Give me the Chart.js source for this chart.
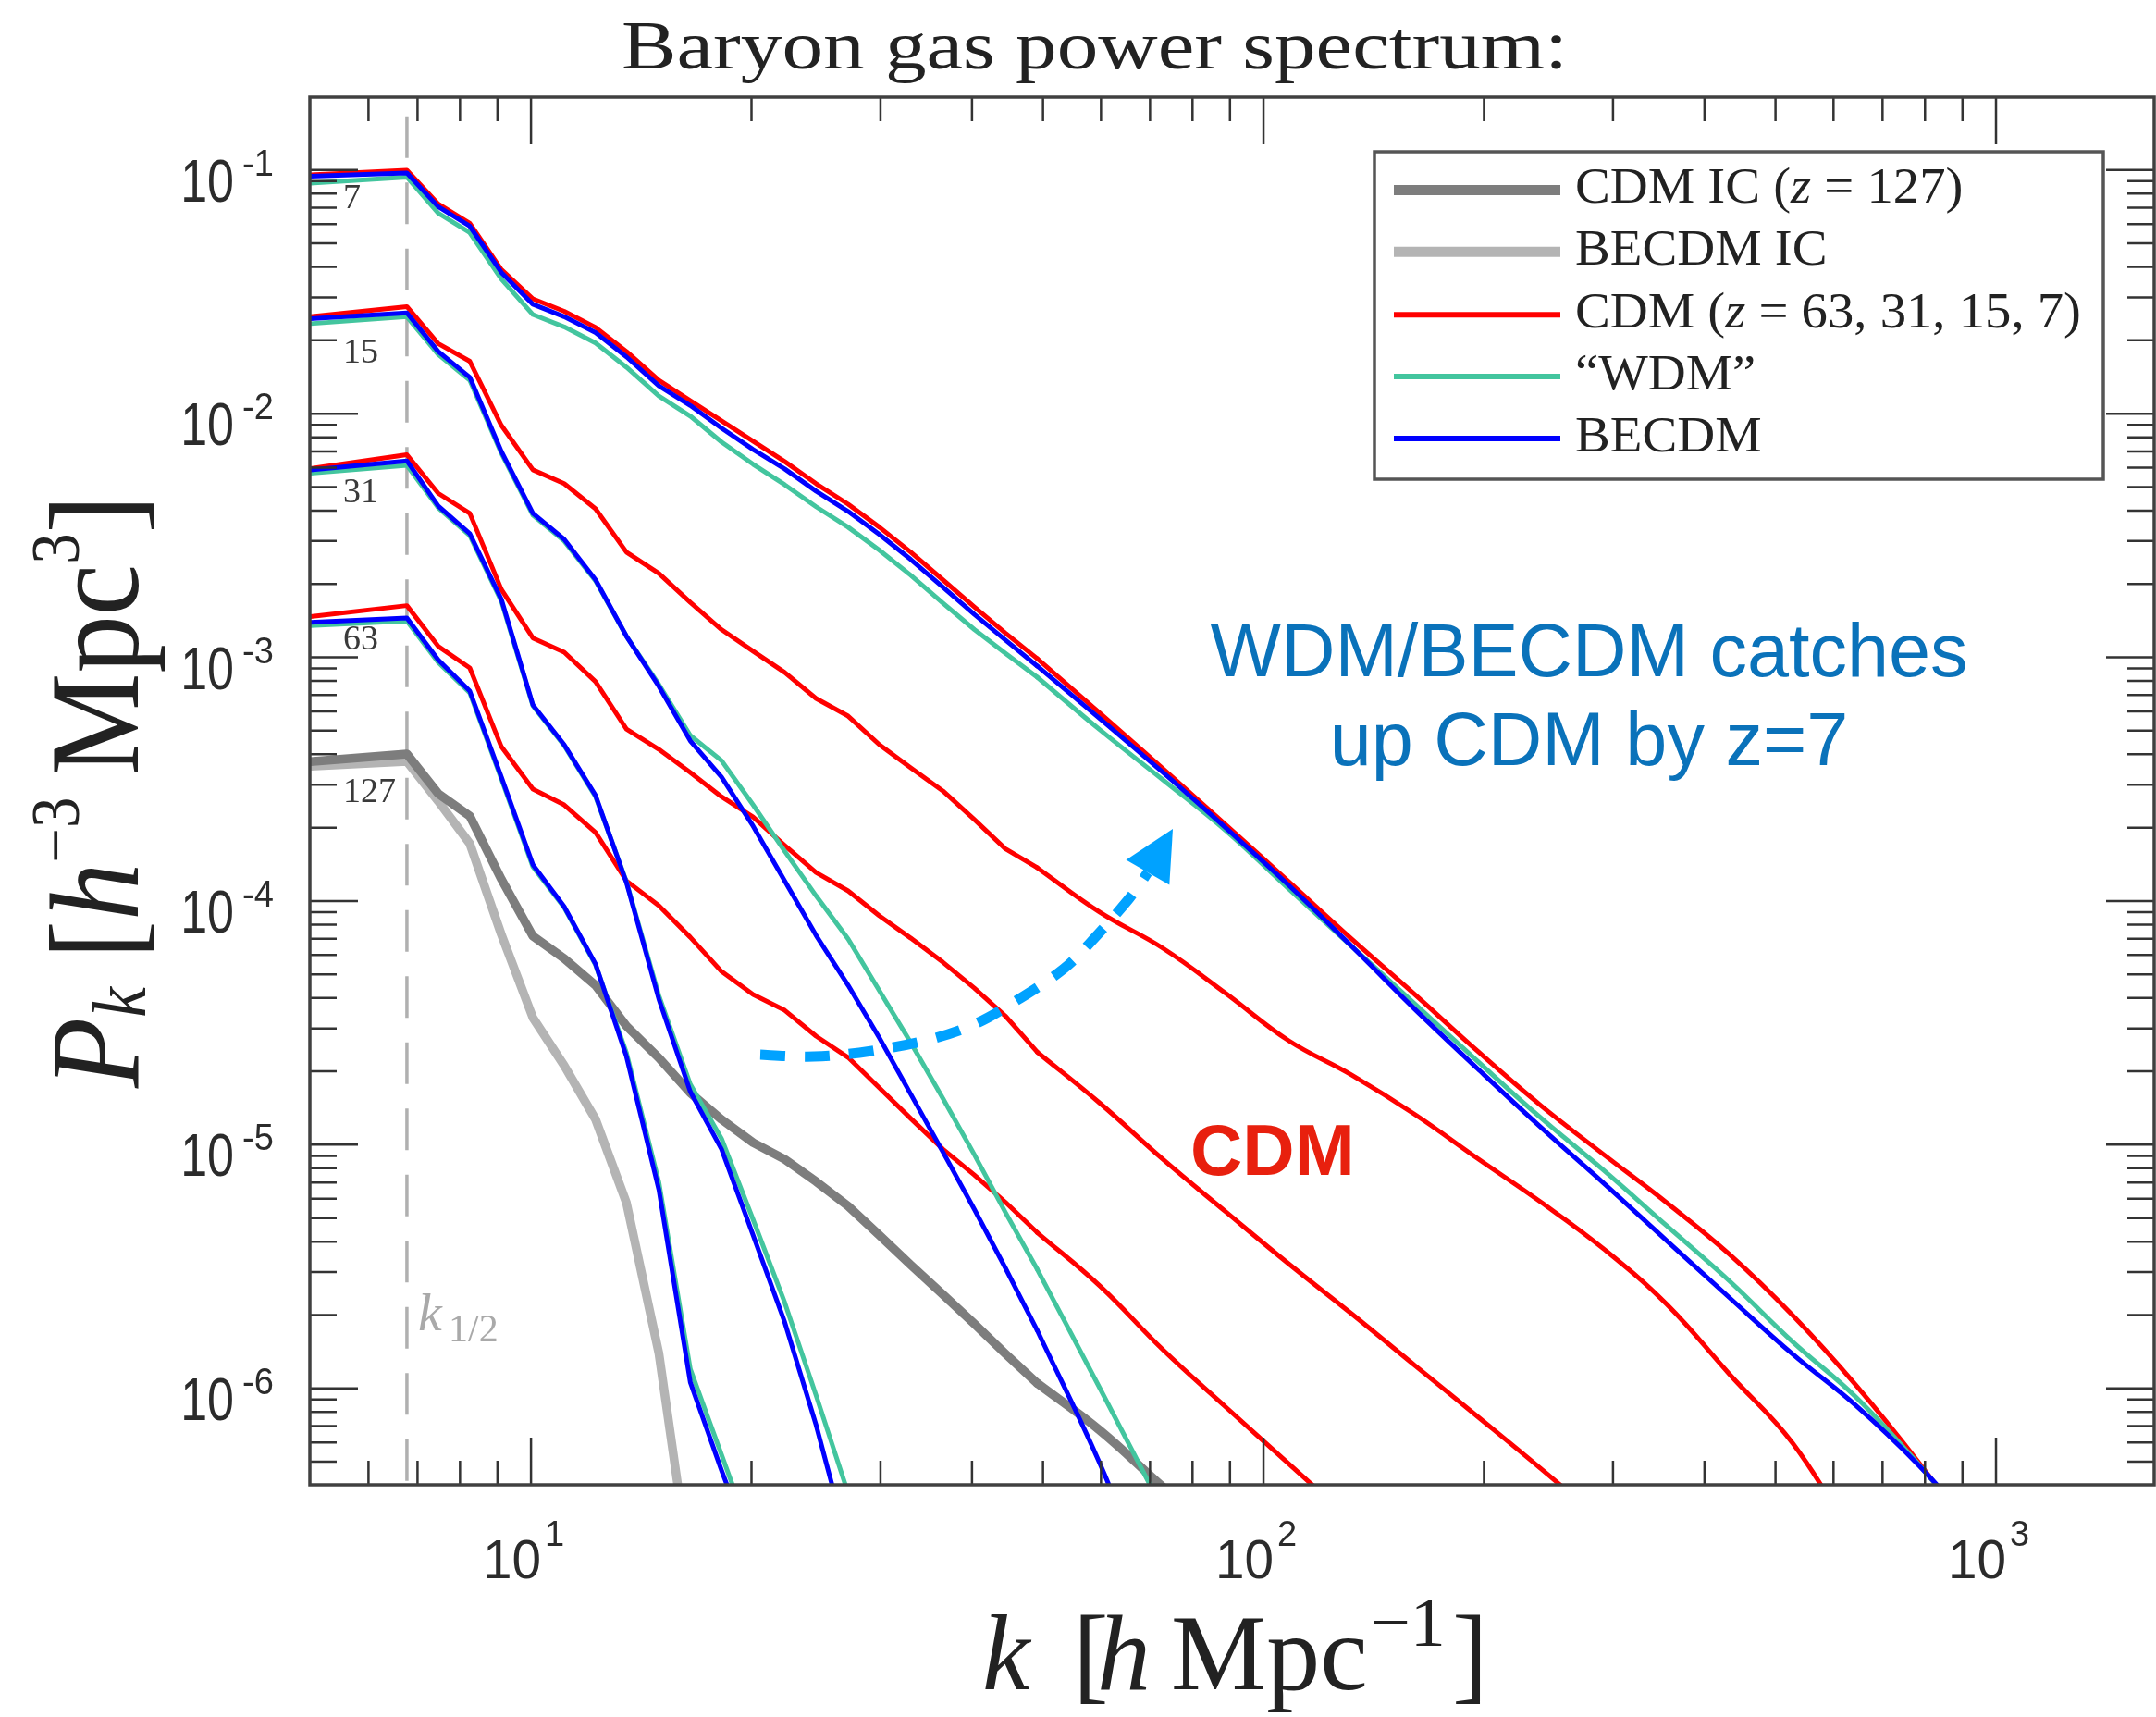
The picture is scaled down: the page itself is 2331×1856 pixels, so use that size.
<!DOCTYPE html>
<html><head><meta charset="utf-8">
<script src="https://cdn.jsdelivr.net/npm/chart.js@4.4.1/dist/chart.umd.min.js"></script>
<style>html,body{margin:0;padding:0;background:#fff;}canvas{display:block;}</style>
</head><body>
<canvas id="c" width="2331" height="1856" style="width:2331px;height:1856px"></canvas>
<script>
// ---------- DATA ----------
const kGrid = [5.0, 6.77, 7.47, 8.25, 9.11, 10.06, 11.1, 12.25, 13.5, 14.95, 16.5, 18.2, 20.1, 22.2, 24.5, 27.1, 29.9, 33.0, 36.5, 40.3, 44.4, 49.1, 59.8, 72.9, 88.9, 108.3, 132, 161, 196, 239, 291.5, 355.4, 433, 528, 644, 785, 957];

const cdmIC = [3.73e-4, 4.01e-4, 2.76e-4, 2.23e-4, 1.23e-4, 7.17e-5, 5.81e-5, 4.51e-5, 3.07e-5, 2.27e-5, 1.63e-5, 1.27e-5, 1.02e-5, 8.71e-6, 7.06e-6, 5.60e-6, 4.25e-6, 3.21e-6, 2.43e-6, 1.84e-6, 1.39e-6, 1.05e-6, 6.72e-7, 3.94e-7, 2.37e-7];
const becdmIC = [3.57e-4, 3.74e-4, 2.57e-4, 1.72e-4, 7.29e-5, 3.32e-5, 2.11e-5, 1.27e-5, 5.77e-6, 1.39e-6, 1.75e-7];

const cdm63 = [1.47e-3, 1.63e-3, 1.11e-3, 9.05e-4, 4.30e-4, 2.88e-4, 2.48e-4, 1.91e-4, 1.21e-4, 9.56e-5, 7.10e-5, 5.14e-5, 4.13e-5, 3.56e-5, 2.79e-5, 2.28e-5, 1.71e-5, 1.28e-5, 9.59e-6, 7.51e-6, 5.82e-6, 4.36e-6, 2.63e-6, 1.44e-6, 8.36e-7, 4.90e-7, 2.87e-7];
const cdm31 = [5.95e-3, 6.78e-3, 4.71e-3, 3.90e-3, 1.90e-3, 1.20e-3, 1.05e-3, 7.94e-4, 5.08e-4, 4.19e-4, 3.37e-4, 2.68e-4, 2.21e-4, 1.69e-4, 1.31e-4, 1.10e-4, 8.69e-5, 7.04e-5, 5.61e-5, 4.39e-5, 3.38e-5, 2.40e-5, 1.48e-5, 8.71e-6, 5.29e-6, 3.24e-6, 2.02e-6, 1.24e-6, 7.66e-7, 4.69e-7, 2.83e-7];
const cdm15 = [2.50e-2, 2.75e-2, 1.94e-2, 1.64e-2, 8.95e-3, 5.88e-3, 5.16e-3, 4.07e-3, 2.70e-3, 2.21e-3, 1.68e-3, 1.30e-3, 1.06e-3, 8.67e-4, 6.78e-4, 5.74e-4, 4.38e-4, 3.52e-4, 2.83e-4, 2.16e-4, 1.64e-4, 1.37e-4, 8.99e-5, 6.40e-5, 4.17e-5, 2.67e-5, 1.93e-5, 1.33e-5, 8.78e-6, 5.82e-6, 3.73e-6, 2.21e-6, 1.14e-6, 5.94e-7, 2.33e-7];
const cdm7 = [9.55e-2, 9.97e-2, 7.25e-2, 6.04e-2, 3.90e-2, 2.96e-2, 2.63e-2, 2.26e-2, 1.80e-2, 1.37e-2, 1.13e-2, 9.35e-3, 7.71e-3, 6.36e-3, 5.16e-3, 4.25e-3, 3.42e-3, 2.70e-3, 2.08e-3, 1.61e-3, 1.26e-3, 9.88e-4, 5.90e-4, 3.49e-4, 2.05e-4, 1.20e-4, 6.98e-5, 4.13e-5, 2.42e-5, 1.45e-5, 9.10e-6, 5.77e-6, 3.54e-6, 1.99e-6, 1.03e-6, 4.95e-7, 2.23e-7];

const wdm63 = [1.35e-3, 1.41e-3, 9.54e-4, 7.15e-4, 3.17e-4, 1.38e-4, 9.40e-5, 5.46e-5, 2.38e-5, 7.00e-6, 1.20e-6, 5.35e-7, 2.35e-7];
const wdm31 = [5.69e-3, 6.13e-3, 4.11e-3, 3.16e-3, 1.70e-3, 6.32e-4, 4.34e-4, 2.68e-4, 1.20e-4, 4.09e-5, 1.77e-5, 1.06e-5, 4.93e-6, 2.25e-6, 9.36e-7, 3.71e-7, 1.47e-7];
const wdm15 = [2.34e-2, 2.50e-2, 1.75e-2, 1.37e-2, 6.88e-3, 3.83e-3, 3.00e-3, 2.06e-3, 1.22e-3, 7.73e-4, 4.78e-4, 3.77e-4, 2.48e-4, 1.60e-4, 1.05e-4, 6.98e-5, 4.28e-5, 2.62e-5, 1.55e-5, 9.10e-6, 5.29e-6, 3.08e-6, 1.00e-6, 3.17e-7];
const wdm7 = [8.83e-2, 9.35e-2, 6.65e-2, 5.53e-2, 3.57e-2, 2.55e-2, 2.27e-2, 1.95e-2, 1.55e-2, 1.18e-2, 9.77e-3, 7.65e-3, 6.20e-3, 5.11e-3, 4.15e-3, 3.42e-3, 2.75e-3, 2.17e-3, 1.67e-3, 1.30e-3, 1.04e-3, 8.29e-4, 5.04e-4, 3.14e-4, 1.94e-4, 1.12e-4, 6.51e-5, 3.78e-5, 2.20e-5, 1.29e-5, 7.84e-6, 4.64e-6, 2.75e-6, 1.55e-6, 9.20e-7, 4.86e-7, 2.37e-7];

const becdm63 = [1.39e-3, 1.45e-3, 9.77e-4, 7.27e-4, 3.23e-4, 1.41e-4, 9.48e-5, 5.51e-5, 2.30e-5, 6.53e-6, 1.06e-6, 4.61e-7, 2.08e-7];
const becdm31 = [5.87e-3, 6.40e-3, 4.18e-3, 3.22e-3, 1.73e-3, 6.38e-4, 4.38e-4, 2.71e-4, 1.19e-4, 3.95e-5, 1.65e-5, 9.59e-6, 4.25e-6, 1.87e-6, 7.08e-7, 2.27e-7];
const becdm15 = [2.45e-2, 2.59e-2, 1.80e-2, 1.41e-2, 7.00e-3, 3.90e-3, 3.05e-3, 2.08e-3, 1.22e-3, 7.60e-4, 4.54e-4, 3.23e-4, 2.03e-4, 1.21e-4, 7.23e-5, 4.51e-5, 2.74e-5, 1.61e-5, 9.34e-6, 5.43e-6, 3.13e-6, 1.73e-6, 4.90e-7, 1.13e-7];
const becdm7 = [9.43e-2, 9.72e-2, 7.07e-2, 5.88e-2, 3.80e-2, 2.81e-2, 2.50e-2, 2.15e-2, 1.71e-2, 1.30e-2, 1.08e-2, 8.72e-3, 7.13e-3, 5.93e-3, 4.81e-3, 3.97e-3, 3.19e-3, 2.52e-3, 1.94e-3, 1.50e-3, 1.18e-3, 9.21e-4, 5.60e-4, 3.37e-4, 1.99e-4, 1.16e-4, 6.51e-5, 3.59e-5, 2.05e-5, 1.18e-5, 6.94e-6, 4.03e-6, 2.35e-6, 1.38e-6, 8.50e-7, 4.82e-7, 2.48e-7];

const kHalf = 6.77;
const arrowK = [20.56, 24.35, 29.07, 35.22, 40.6, 46.3, 53.4, 59.25, 65.6, 69.5];
const arrowP = [2.34e-5, 2.30e-5, 2.42e-5, 2.715e-5, 3.15e-5, 3.95e-5, 5.28e-5, 7.23e-5, 1.026e-4, 1.31e-4];
const arrowTip = [75.2, 1.976e-4];

const xMajorTicks = [10, 100, 1000];
const xTickExps = ['1', '2', '3'];
const yMajorTicks = [1e-1, 1e-2, 1e-3, 1e-4, 1e-5, 1e-6];
const yTickExps = ['-1', '-2', '-3', '-4', '-5', '-6'];
const zLabels = ['7', '15', '31', '63', '127'];
const legendLabels = [
  [['CDM IC (', 0], ['z', 1], [' = 127)', 0]],
  [['BECDM IC', 0]],
  [['CDM (', 0], ['z', 1], [' = 63, 31, 15, 7)', 0]],
  [['\u201CWDM\u201D', 0]],
  [['BECDM', 0]]
];
const titleText = 'Baryon gas power spectrum:';
const noteLines = ['WDM/BECDM catches', 'up CDM by z=7'];
const noteCDM = 'CDM';

// ---------- STYLE ----------
const C_DARK = '#7d7d7d', C_LIGHT = '#b4b4b4', C_RED = '#ff0000', C_TEAL = '#43c59e', C_BLUE = '#0000ff';
const SERIF = '"Liberation Serif","Times New Roman",serif';
const SANS = '"Liberation Sans",Arial,sans-serif';
const SPLIT = 21; // index where the binned (kinked) part turns into the smooth high-k tail

const pts = (vals, i0, i1) => vals.slice(i0, i1).map((v, j) => ({x: kGrid[i0 + j], y: v}));
const datasets = [];
function addSeries(label, vals, color, w, order) {
  const base = {label, borderColor: color, backgroundColor: color, borderWidth: w, pointRadius: 0,
    showLine: true, fill: false, clip: 0, order, borderJoinStyle: 'round', borderCapStyle: 'round'};
  datasets.push(Object.assign({}, base, {data: pts(vals, 0, Math.min(SPLIT + 1, vals.length)), tension: 0}));
  if (vals.length > SPLIT + 1)
    datasets.push(Object.assign({}, base, {data: pts(vals, SPLIT, vals.length), tension: 0.4}));
}
addSeries('BECDM z=7', becdm7, C_BLUE, 5, 1); addSeries('BECDM z=15', becdm15, C_BLUE, 5, 1);
addSeries('BECDM z=31', becdm31, C_BLUE, 5, 1); addSeries('BECDM z=63', becdm63, C_BLUE, 5, 1);
addSeries('WDM z=7', wdm7, C_TEAL, 5, 2); addSeries('WDM z=15', wdm15, C_TEAL, 5, 2);
addSeries('WDM z=31', wdm31, C_TEAL, 5, 2); addSeries('WDM z=63', wdm63, C_TEAL, 5, 2);
addSeries('CDM z=7', cdm7, C_RED, 5, 3); addSeries('CDM z=15', cdm15, C_RED, 5, 3);
addSeries('CDM z=31', cdm31, C_RED, 5, 3); addSeries('CDM z=63', cdm63, C_RED, 5, 3);
addSeries('CDM IC', cdmIC, C_DARK, 9.5, 4); addSeries('BECDM IC', becdmIC, C_LIGHT, 9.5, 5);
const legendStyles = [[C_DARK, 11], [C_LIGHT, 11], [C_RED, 6], [C_TEAL, 6], [C_BLUE, 6]];

function runsWidth(ctx, runs) {
  let w = 0; for (const r of runs) { ctx.font = r.f; w += ctx.measureText(r.t).width + (r.g || 0); } return w;
}
function drawRuns(ctx, runs, x, y, s) {
  ctx.save(); ctx.translate(x, y); ctx.scale(s, 1);
  let cx = 0;
  for (const r of runs) { ctx.font = r.f; ctx.fillText(r.t, cx, r.dy || 0); cx += ctx.measureText(r.t).width + (r.g || 0); }
  ctx.restore();
}
function catmull(ctx, p) {
  ctx.moveTo(p[0].x, p[0].y);
  for (let i = 0; i < p.length - 1; i++) {
    const p0 = p[Math.max(i - 1, 0)], p1 = p[i], p2 = p[i + 1], p3 = p[Math.min(i + 2, p.length - 1)];
    ctx.bezierCurveTo(p1.x + (p2.x - p0.x) / 6, p1.y + (p2.y - p0.y) / 6, p2.x - (p3.x - p1.x) / 6, p2.y - (p3.y - p1.y) / 6, p2.x, p2.y);
  }
}

const deco = {
  id: 'deco',
  beforeDraw(chart) {
    const c = chart.ctx; c.save(); c.fillStyle = '#fff'; c.fillRect(0, 0, chart.width, chart.height); c.restore();
  },
  beforeDatasetsDraw(chart) {
    const {ctx, chartArea: a, scales: {x}} = chart;
    const px = x.getPixelForValue(kHalf);
    ctx.save(); ctx.strokeStyle = '#b0b0b0'; ctx.lineWidth = 3.5; ctx.setLineDash([45, 26.5]); ctx.lineDashOffset = 50.8;
    ctx.beginPath(); ctx.moveTo(px, a.top); ctx.lineTo(px, a.bottom); ctx.stroke(); ctx.restore();
  },
  afterDatasetsDraw(chart) {
    const {ctx, chartArea: a, scales: {x, y}} = chart;
    ctx.save();
    // ---- arrow annotation ----
    const ap = arrowK.map((k, i) => ({x: x.getPixelForValue(k), y: y.getPixelForValue(arrowP[i])}));
    ctx.strokeStyle = '#00a2ff'; ctx.fillStyle = '#00a2ff'; ctx.lineWidth = 11; ctx.lineCap = 'butt';
    ctx.setLineDash([27, 21]);
    ctx.beginPath(); catmull(ctx, ap); ctx.stroke(); ctx.setLineDash([]);
    const T = {x: x.getPixelForValue(arrowTip[0]), y: y.getPixelForValue(arrowTip[1])};
    const B = ap[ap.length - 1];
    let dx = T.x - B.x, dy = T.y - B.y; const L = Math.hypot(dx, dy); dx /= L; dy /= L;
    const hw = 27;
    ctx.beginPath(); ctx.moveTo(T.x, T.y); ctx.lineTo(B.x - dy * hw, B.y + dx * hw); ctx.lineTo(B.x + dy * hw, B.y - dx * hw); ctx.closePath(); ctx.fill();

    // ---- frame and inward ticks ----
    ctx.strokeStyle = '#333'; ctx.lineWidth = 2.5; ctx.beginPath();
    const xt = [];
    for (let e = 0; e <= 3; e++) for (let m = 1; m <= 9; m++) xt.push([m * Math.pow(10, e), m === 1]);
    for (const [v, maj] of xt) {
      if (v < 5.5 || v > x.max) continue;
      const p = x.getPixelForValue(v), len = maj ? 51 : 26;
      ctx.moveTo(p, a.bottom); ctx.lineTo(p, a.bottom - len);
      ctx.moveTo(p, a.top); ctx.lineTo(p, a.top + len);
    }
    for (let e = -7; e <= -1; e++) for (let m = 1; m <= 9; m++) {
      const v = m * Math.pow(10, e);
      if (v < y.min * 1.02 || v > y.max * 0.98) continue;
      const p = y.getPixelForValue(v), len = m === 1 ? 52 : 29;
      ctx.moveTo(a.left, p); ctx.lineTo(a.left + len, p);
      ctx.moveTo(a.right, p); ctx.lineTo(a.right - len, p);
    }
    ctx.stroke();
    ctx.strokeStyle = '#404040'; ctx.lineWidth = 3.5;
    ctx.strokeRect(a.left, a.top, a.right - a.left, a.bottom - a.top);

    // ---- tick labels ----
    ctx.fillStyle = '#2b2b2b'; ctx.textBaseline = 'alphabetic';
    yMajorTicks.forEach((v, i) => {
      const p = y.getPixelForValue(v);
      ctx.save(); ctx.font = '65px ' + SANS; ctx.textAlign = 'right'; ctx.translate(253, p + 34); ctx.scale(0.8, 1); ctx.fillText('10', 0, 0); ctx.restore();
      ctx.save(); ctx.font = '40px ' + SANS; ctx.textAlign = 'left'; ctx.translate(262, p + 6); ctx.scale(0.95, 1); ctx.fillText(yTickExps[i], 0, 0); ctx.restore();
    });
    xMajorTicks.forEach((v, i) => {
      const p = x.getPixelForValue(v);
      ctx.save(); ctx.font = '59px ' + SANS; ctx.textAlign = 'left'; ctx.translate(p - 52, 1706); ctx.scale(0.96, 1); ctx.fillText('10', 0, 0); ctx.restore();
      ctx.save(); ctx.font = '38px ' + SANS; ctx.textAlign = 'left'; ctx.fillText(xTickExps[i], p + 15, 1671); ctx.restore();
    });

    // ---- redshift labels near left axis ----
    ctx.fillStyle = '#3a3a3a'; ctx.font = '38px ' + SERIF; ctx.textAlign = 'left';
    const zy = [225, 391.5, 543, 701.5, 866.5];
    zLabels.forEach((t, i) => ctx.fillText(t, 371, zy[i]));

    // ---- k_1/2 label ----
    ctx.fillStyle = '#a9a9a9';
    ctx.font = 'italic 58px ' + SERIF; ctx.fillText('k', 452, 1438);
    ctx.font = '42px ' + SERIF; ctx.fillText('1/2', 485, 1450);

    // ---- legend ----
    const lx0 = 1486, ly0 = 164, lx1 = 2274, ly1 = 518;
    ctx.fillStyle = '#fff'; ctx.fillRect(lx0, ly0, lx1 - lx0, ly1 - ly0);
    ctx.strokeStyle = '#555'; ctx.lineWidth = 3.5; ctx.strokeRect(lx0, ly0, lx1 - lx0, ly1 - ly0);
    const rowY = [205.4, 272.3, 340.2, 407.1, 474.1];
    const mkRuns = row => row.map(([t, it]) => ({t, f: (it ? 'italic ' : '') + '55px ' + SERIF}));
    const sLeg = 547 / runsWidth(ctx, mkRuns(legendLabels[2]));
    legendLabels.forEach((row, i) => {
      ctx.strokeStyle = legendStyles[i][0]; ctx.lineWidth = legendStyles[i][1];
      ctx.beginPath(); ctx.moveTo(1507, rowY[i]); ctx.lineTo(1687, rowY[i]); ctx.stroke();
      ctx.fillStyle = '#222';
      drawRuns(ctx, mkRuns(row), 1703, rowY[i] + 13.5, sLeg);
    });

    // ---- title ----
    ctx.fillStyle = '#222';
    const tr = [{t: titleText, f: '74px ' + SERIF}];
    drawRuns(ctx, tr, 672, 74, 1023 / runsWidth(ctx, tr));

    // ---- x axis title ----
    ctx.fillStyle = '#222';
    ctx.font = 'italic 116px ' + SERIF; ctx.fillText('k', 1062, 1826);
    ctx.font = '116px ' + SERIF; ctx.fillText('[', 1160, 1826);
    ctx.font = 'italic 116px ' + SERIF; ctx.fillText('h', 1186, 1826);
    ctx.font = '116px ' + SERIF; ctx.fillText('Mpc', 1266, 1826);
    ctx.font = '76px ' + SERIF; ctx.fillText('\u22121', 1482, 1779);
    ctx.font = '116px ' + SERIF; ctx.fillText(']', 1570, 1826);

    // ---- y axis title (rotated) ----
    ctx.save(); ctx.translate(149, 1176); ctx.rotate(-Math.PI / 2);
    const yr = [
      {t: 'P', f: 'italic 138px ' + SERIF},
      {t: 'k', f: 'italic 82px ' + SERIF, dy: 8, g: 34},
      {t: '[', f: '138px ' + SERIF},
      {t: 'h', f: 'italic 138px ' + SERIF},
      {t: '\u22123', f: '74px ' + SERIF, dy: -64, g: 26},
      {t: 'Mpc', f: '138px ' + SERIF},
      {t: '3', f: '74px ' + SERIF, dy: -64},
      {t: ']', f: '138px ' + SERIF}
    ];
    drawRuns(ctx, yr, 0, 0, 641 / runsWidth(ctx, yr));
    ctx.restore();

    // ---- annotations ----
    ctx.textAlign = 'center'; ctx.fillStyle = '#0a72ba'; ctx.font = '81px ' + SANS;
    ctx.fillText(noteLines[0], 1718, 731);
    ctx.fillText(noteLines[1], 1718, 827);
    ctx.textAlign = 'left'; ctx.fillStyle = '#e8200e'; ctx.font = 'bold 78px ' + SANS;
    ctx.fillText(noteCDM, 1287, 1270);
    ctx.restore();
  }
};

new Chart(document.getElementById('c'), {
  type: 'scatter',
  data: {datasets},
  options: {
    responsive: false, animation: false, devicePixelRatio: 1,
    layout: {padding: {left: 335, right: 2, top: 105, bottom: 251}},
    scales: {
      x: {type: 'logarithmic', min: 4.99, max: 1644, display: false},
      y: {type: 'logarithmic', min: 4.02e-7, max: 0.199, display: false}
    },
    plugins: {legend: {display: false}, tooltip: {enabled: false}, title: {display: false}}
  },
  plugins: [deco]
});
</script>
</body></html>
